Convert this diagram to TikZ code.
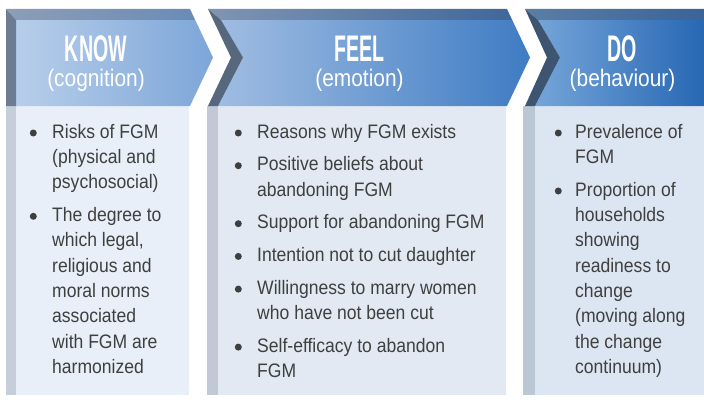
\documentclass[tikz,border=0pt]{standalone}
\usepackage{fontspec}
\setmainfont[FakeStretch=0.9]{Liberation Sans}
\newfontfamily\headfont[FakeStretch=0.53]{Liberation Sans}
\newfontfamily\subfont[FakeStretch=0.87]{Liberation Sans}
\usetikzlibrary{positioning}

\definecolor{txt}{HTML}{3F3F3F}
% header colours
\definecolor{h1a}{HTML}{B7CEEA}
\definecolor{h1b}{HTML}{7DA6D8}
\definecolor{h1c}{HTML}{8D9EB6}
\definecolor{h1d}{HTML}{6A8BB8}
\definecolor{h1e}{HTML}{6C7C93}
\definecolor{h2a}{HTML}{A0BDE2}
\definecolor{h2b}{HTML}{3F7CC3}
\definecolor{h2c}{HTML}{7F95B3}
\definecolor{h2d}{HTML}{40679A}
\definecolor{h2e}{HTML}{56677E}
\definecolor{h3a}{HTML}{75A5D9}
\definecolor{h3b}{HTML}{2767B3}
\definecolor{h3c}{HTML}{5B7EA6}
\definecolor{h3d}{HTML}{3A6397}
\definecolor{h3e}{HTML}{3E5572}
% panel colours
\definecolor{p1}{HTML}{E8EFF8}
\definecolor{s1}{HTML}{C6CED9}
\definecolor{p2}{HTML}{E2E9F3}
\definecolor{s2}{HTML}{C0C9D5}
\definecolor{p3}{HTML}{DCE6F2}
\definecolor{s3}{HTML}{BCC7D5}

\begin{document}
\begin{tikzpicture}[x=1pt, y=1pt, node distance=7pt,
    head/.style = {anchor=base, inner sep=0pt, text=white, font=\headfont\bfseries\fontsize{37}{37}\selectfont},
    sub/.style = {anchor=base, inner sep=0pt, text=white, font=\subfont\fontsize{24}{24}\selectfont},
    item/.style = {inner sep=0pt, align=left, text=txt, font=\fontsize{19.5}{25.3}\selectfont},
    dot/.style = {circle, fill=txt, minimum size=7pt, inner sep=0pt}]
    \useasboundingbox (0,0) rectangle (704,-404);
    \fill[white] (0,0) rectangle (704,-404);

    % KNOW
    \fill[s1] (6,-106) rectangle (16,-395);
    \fill[p1] (16,-106) rectangle (189,-395);
    \shade[left color=h1a, right color=h1b] (16,-20) -- (195.2,-20) -- (213,-57.5) -- (190,-106) -- (16,-106) -- cycle;
    \shade[left color=h1c, right color=h1d] (6,-9) -- (190,-9) -- (195.2,-20) -- (16,-20) -- cycle;
    \fill[h1e] (6,-9) -- (16,-20) -- (16,-106) -- (6,-106) -- cycle;

    % FEEL
    \fill[s2] (207,-106) rectangle (218,-395);
    \fill[p2] (218,-106) rectangle (506,-395);
    \shade[left color=h2a, right color=h2b] (221,-20) -- (512.2,-20) -- (530,-57.5) -- (507,-106) -- (218,-106) -- (243,-57.5) -- cycle;
    \shade[left color=h2c, right color=h2d] (208,-9) -- (507,-9) -- (512.2,-20) -- (221,-20) -- cycle;
    \fill[h2e] (208,-9) -- (221,-20) -- (243,-57.5) -- (218,-106) -- (208,-106) -- (231,-57.5) -- cycle;

    % DO
    \fill[s3] (523,-106) rectangle (535,-395);
    \fill[p3] (535,-106) rectangle (704,-395);
    \shade[left color=h3a, right color=h3b] (538,-20) -- (704,-20) -- (704,-106) -- (535,-106) -- (560,-57.5) -- cycle;
    \shade[left color=h3c, right color=h3d] (525,-9) -- (704,-9) -- (704,-20) -- (538,-20) -- cycle;
    \fill[h3e] (525,-9) -- (538,-20) -- (560,-57.5) -- (535,-106) -- (525,-106) -- (547,-57.5) -- cycle;

    % titles
    \node[head] (t1) at (96,-62) {KNOW};
    \node[sub] (u1) at (96,-86) {(cognition)};
    \node[head] (t2) at (359.5,-62) {FEEL};
    \node[sub] (u2) at (359.5,-86) {(emotion)};
    \node[head] (t3) at (622.5,-62) {DO};
    \node[sub] (u3) at (622.5,-86) {(behaviour)};

    % items, know
    \node[item, anchor=north west] (k1) at (52,-120.3) {\strut Risks of FGM\\(physical and\\psychosocial)\strut};
    \node[item, below=of k1.south west, anchor=north west] (k2) {\strut The degree to\\which legal,\\religious and\\moral norms\\associated\\with FGM are\\harmonized\strut};

    % items, feel
    \node[item, anchor=north west] (f1) at (257,-120.3) {\strut Reasons why FGM exists\strut};
    \node[item, below=of f1.south west, anchor=north west] (f2) {\strut Positive beliefs about\\abandoning FGM\strut};
    \node[item, below=of f2.south west, anchor=north west] (f3) {\strut Support for abandoning FGM\strut};
    \node[item, below=of f3.south west, anchor=north west] (f4) {\strut Intention not to cut daughter\strut};
    \node[item, below=of f4.south west, anchor=north west] (f5) {\strut Willingness to marry women\\who have not been cut\strut};
    \node[item, below=of f5.south west, anchor=north west] (f6) {\strut Self-efficacy to abandon\\FGM\strut};

    % items, do
    \node[item, anchor=north west] (o1) at (575,-120.3) {\strut Prevalence of\\FGM\strut};
    \node[item, below=of o1.south west, anchor=north west] (o2) {\strut Proportion of\\households\\showing\\readiness to\\change\\(moving along\\the change\\continuum)\strut};

    % bullets
    \node[dot, left=15pt of k1.north west, yshift=-12.7pt] (dk1) {};
    \node[dot, left=15pt of k2.north west, yshift=-12.7pt] (dk2) {};
    \node[dot, left=15pt of f1.north west, yshift=-12.7pt] (df1) {};
    \node[dot, left=15pt of f2.north west, yshift=-12.7pt] (df2) {};
    \node[dot, left=15pt of f3.north west, yshift=-12.7pt] (df3) {};
    \node[dot, left=15pt of f4.north west, yshift=-12.7pt] (df4) {};
    \node[dot, left=15pt of f5.north west, yshift=-12.7pt] (df5) {};
    \node[dot, left=15pt of f6.north west, yshift=-12.7pt] (df6) {};
    \node[dot, left=13pt of o1.north west, yshift=-12.7pt] (do1) {};
    \node[dot, left=13pt of o2.north west, yshift=-12.7pt] (do2) {};
\end{tikzpicture}
\end{document}
